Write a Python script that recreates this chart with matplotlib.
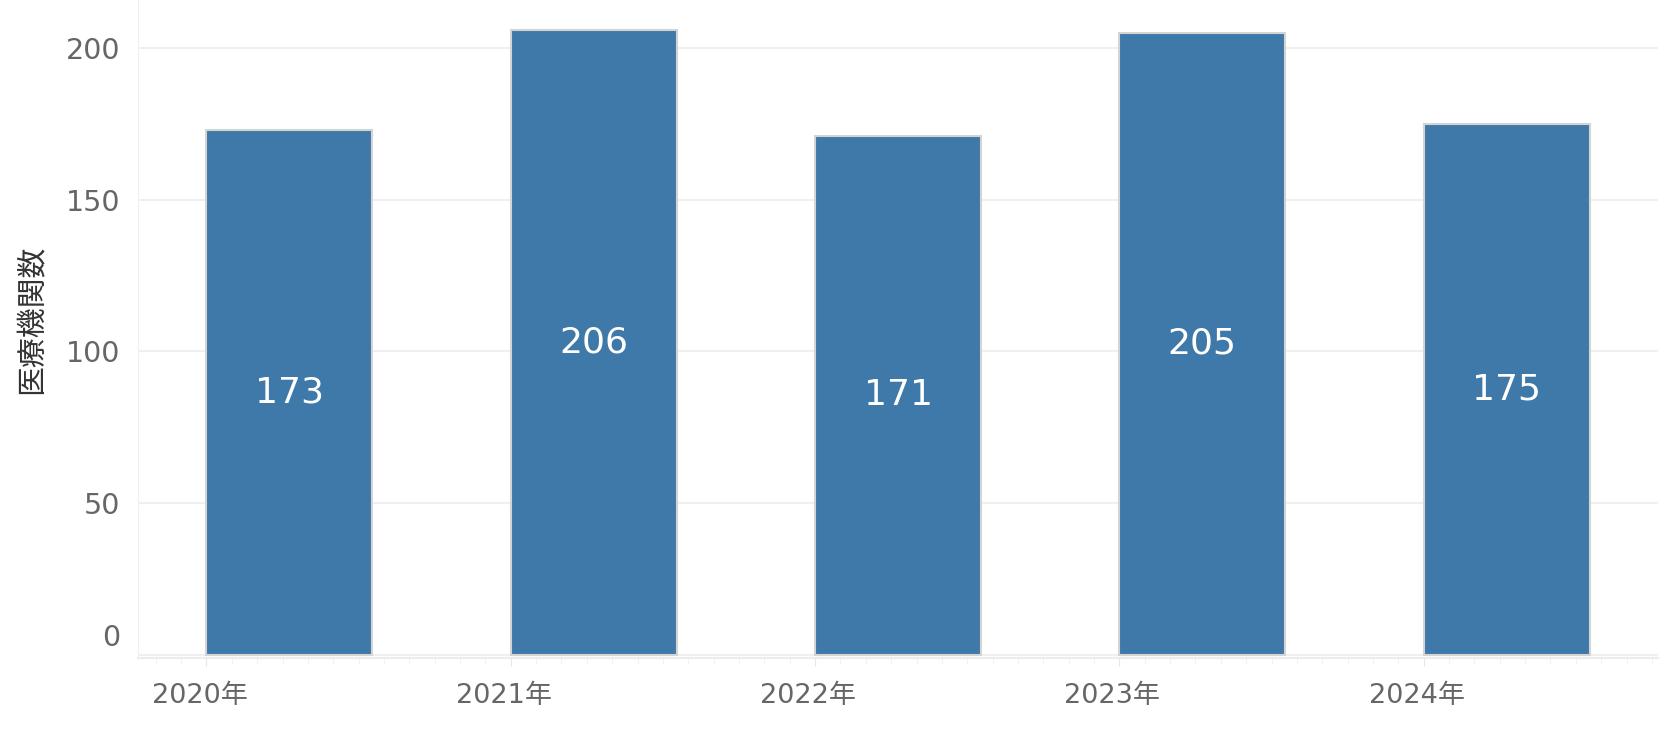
import matplotlib
matplotlib.use('Agg')
import matplotlib.pyplot as plt
import matplotlib.transforms as mtransforms
from matplotlib.ticker import MultipleLocator, FixedLocator

plt.rcParams['font.family'] = ['DejaVu Sans', 'Noto Sans CJK JP']

# データ
years = [2020, 2021, 2022, 2023, 2024]
counts = [173, 206, 171, 205, 175]
year_labels = ['2020年', '2021年', '2022年', '2023年', '2024年']
y_ticks = [0, 50, 100, 150, 200]

bar_color = '#3f79a9'
text_gray = '#666666'
grid_gray = '#f0f0f0'

fig = plt.figure(figsize=(16.7, 7.38), dpi=100)
ax = fig.add_axes([138 / 1670, (738 - 658) / 738, (1658 - 138) / 1670, 658 / 738])

# 棒グラフ（年の位置から右へ伸びる）
bars = ax.bar(years, counts, width=0.545, align='edge', color=bar_color,
              edgecolor='#d4d4d4', linewidth=1.5, zorder=3)

# 棒の中央に値
for b, v in zip(bars, counts):
    ax.text(b.get_x() + b.get_width() / 2, v / 2, str(v), ha='center', va='center',
            color='white', fontsize=26, zorder=4)

ax.set_xlim(2020 - 0.225, 2024.77)
ax.set_ylim(-1, 215.8)

ax.xaxis.set_major_locator(FixedLocator(years))
ax.set_xticklabels(year_labels)
ax.xaxis.set_minor_locator(MultipleLocator(1 / 12))
ax.set_yticks(y_ticks)
ax.set_yticklabels([str(t) for t in y_ticks])

ax.tick_params(axis='x', which='major', length=6, color='#e6e6e6', labelsize=19.5,
               labelcolor=text_gray, pad=12)
ax.tick_params(axis='x', which='minor', length=4, color='#eeeeee')
ax.tick_params(axis='y', length=0, labelsize=20.5, labelcolor=text_gray, pad=13)

# 0 のラベルは少し上にずらす
for lbl in ax.get_yticklabels():
    if lbl.get_text() == '0':
        lbl.set_transform(lbl.get_transform() + mtransforms.ScaledTranslation(0, 20 / 100, fig.dpi_scale_trans))

for lbl in ax.get_xticklabels():
    lbl.set_transform(lbl.get_transform() + mtransforms.ScaledTranslation(-7 / 100, 0, fig.dpi_scale_trans))

ax.grid(axis='y', color=grid_gray, linewidth=1.5, zorder=0)
ax.set_axisbelow(True)

for s in ['top', 'right']:
    ax.spines[s].set_visible(False)
ax.spines['left'].set_color('#f0f0f0')
ax.spines['bottom'].set_color('#ececec')
ax.spines['bottom'].set_linewidth(1.5)

ax.set_ylabel('医療機関数', fontsize=21.5, color='#333333')
ax.yaxis.set_label_coords(-0.06, 0.515)

fig.savefig('out.png', dpi=100)
